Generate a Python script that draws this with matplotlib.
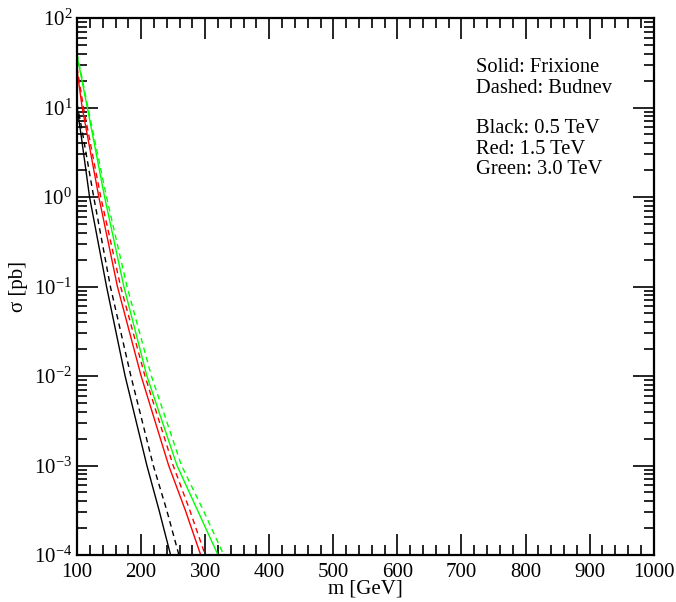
import numpy as np
import matplotlib
matplotlib.use("Agg")
import matplotlib.pyplot as plt
from matplotlib.ticker import FixedLocator, FuncFormatter, LogLocator, NullFormatter

plt.rcParams['font.family'] = ['Liberation Serif', 'DejaVu Serif']
plt.rcParams['mathtext.fontset'] = 'custom'
plt.rcParams['mathtext.rm'] = 'Liberation Serif'
plt.rcParams['mathtext.it'] = 'Liberation Serif:italic'

# values: mass [GeV] vs cross section [pb]
sig = [1.0, 0.1, 0.01, 1e-3, 10**-3.5, 1e-4]
m_black_solid = [100, 106, 119.5, 146, 175, 209, 228, 246]
s_black_solid = [10.0, 5.1] + sig
m_black_dash = [100, 107, 126, 152, 184, 219, 240, 259]
s_black_dash = [11.0, 6.0] + sig
m_red_solid = [100, 108, 134, 163, 200, 243, 269, 293]
s_red_solid = [26.0, 10.0] + sig
m_red_dash = [100, 110, 137, 168, 206, 250, 276, 300]
s_red_dash = [28.0, 10.0] + sig
m_green_solid = [100, 116, 143, 173, 209, 256, 288, 320]
s_green_solid = [38.0, 10.0] + sig
m_green_dash = [100, 117, 146, 178, 216, 263, 297, 329]
s_green_dash = [40.0, 10.0] + sig

fig = plt.figure(figsize=(6.76, 6.02), dpi=100)
ax = fig.add_axes([0.114, 0.078, 0.853, 0.892])

dash = (0, (4, 3))
ax.plot(m_black_solid, s_black_solid, color='black', lw=1.0)
ax.plot(m_black_dash, s_black_dash, color='black', lw=1.0, linestyle=dash)
ax.plot(m_red_solid, s_red_solid, color='#ff0000', lw=1.0)
ax.plot(m_red_dash, s_red_dash, color='#ff0000', lw=1.0, linestyle=dash)
ax.plot(m_green_solid, s_green_solid, color='#00ff00', lw=1.0)
ax.plot(m_green_dash, s_green_dash, color='#00ff00', lw=1.0, linestyle=dash)

ax.set_yscale('log')
ax.set_xlim(100, 1000)
ax.set_ylim(1e-4, 1e2)

ax.xaxis.set_major_locator(FixedLocator(np.arange(100, 1001, 100)))
ax.xaxis.set_minor_locator(FixedLocator(np.arange(100, 1001, 20)))
ax.yaxis.set_major_locator(LogLocator(base=10, numticks=20))
ax.yaxis.set_minor_locator(LogLocator(base=10, subs=np.arange(2, 10), numticks=20))
ax.yaxis.set_minor_formatter(NullFormatter())
ax.yaxis.set_major_formatter(FuncFormatter(
    lambda v, p: r'$\mathregular{10^{%d}}$' % int(round(np.log10(v)))))

ax.tick_params(which='both', direction='in', top=True, right=True, labelsize=15, width=1.2)
ax.tick_params(which='major', length=15)
ax.tick_params(which='minor', length=7)
ax.tick_params(axis='x', pad=6)
for s in ax.spines.values():
    s.set_linewidth(1.6)

ax.set_xlabel('m [GeV]', fontsize=15, labelpad=-2)
ax.set_ylabel('σ [pb]', fontsize=15, labelpad=4)

ax.text(0.692, 0.889, 'Solid: Frixione\nDashed: Budnev', transform=ax.transAxes,
        fontsize=14.8, va='center', linespacing=1.12)
ax.text(0.692, 0.756, 'Black: 0.5 TeV\nRed: 1.5 TeV\nGreen: 3.0 TeV', transform=ax.transAxes,
        fontsize=14.8, va='center', linespacing=1.12)

fig.savefig('out.png', dpi=100)
